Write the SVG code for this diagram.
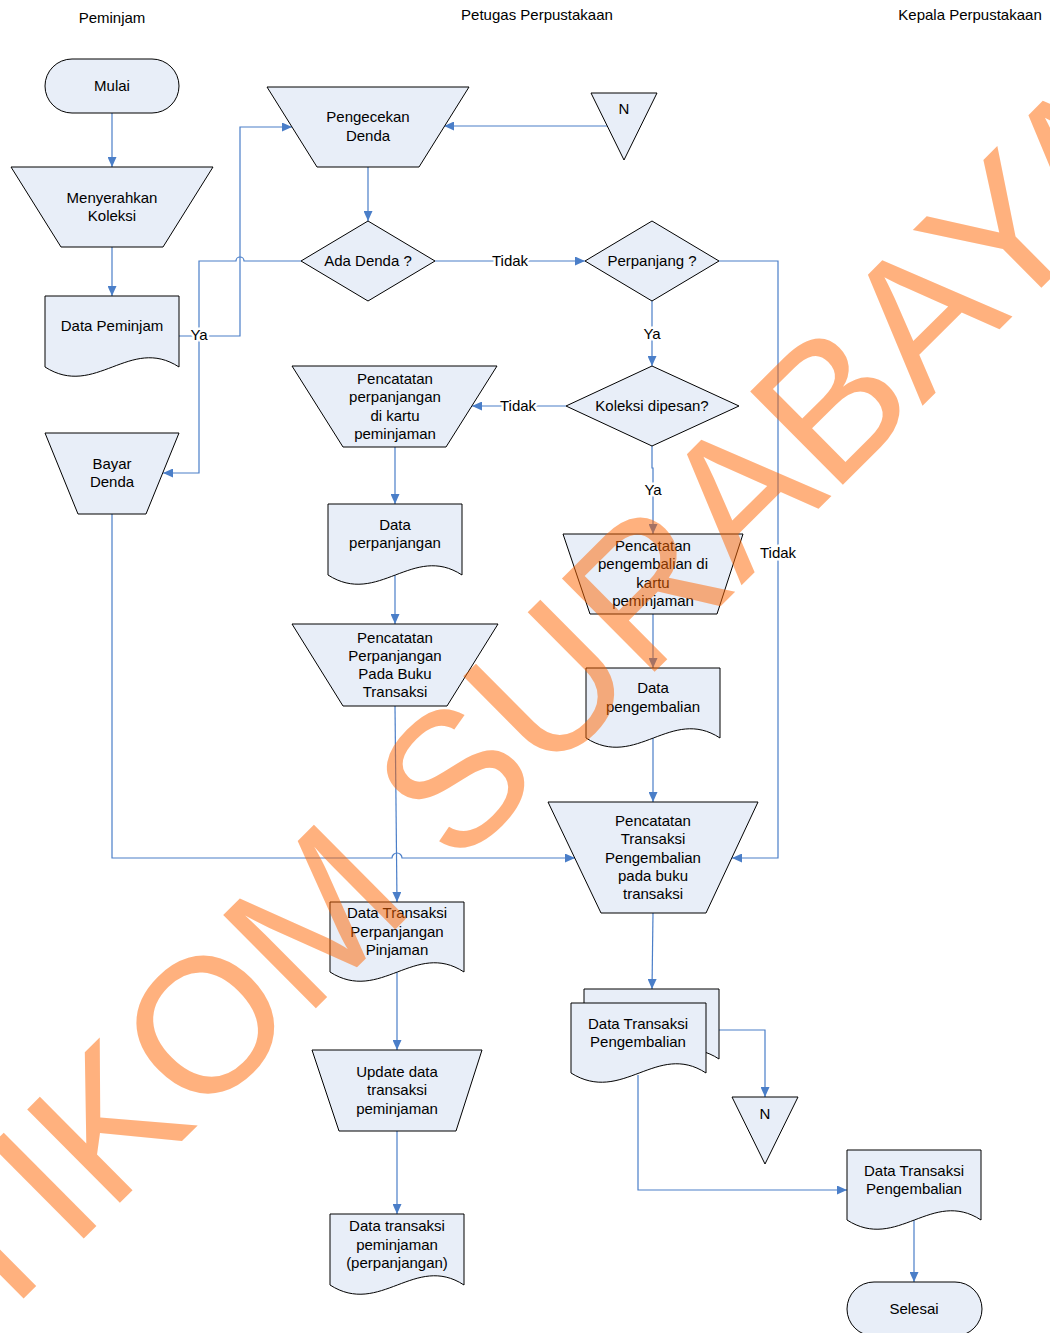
<svg xmlns="http://www.w3.org/2000/svg" width="1050" height="1333" viewBox="0 0 1050 1333">
<defs>
<style>
.shape{fill:#E8EEF8;stroke:#000;stroke-width:1}
.t{font-family:"Liberation Sans",Arial,sans-serif;font-size:15px;fill:#000;text-anchor:middle}
.c{fill:none;stroke:#4A7EC8;stroke-width:1.2}
.lbl{font-family:"Liberation Sans",Arial,sans-serif;font-size:15px;fill:#000;text-anchor:middle;stroke:#fff;stroke-width:5;paint-order:stroke;stroke-linejoin:round}
.wm{font-family:"Liberation Sans",Arial,sans-serif;font-size:191px;fill:#FF6600;opacity:0.5}
</style>
<marker id="arr" markerUnits="userSpaceOnUse" markerWidth="11" markerHeight="9" refX="10" refY="4.5" orient="auto">
<path d="M0,0 L10,4.5 L0,9 Z" fill="#4A7EC8"/>
</marker>
</defs>
<rect width="1050" height="1333" fill="#fff"/>

<g id="headers">
<text class="t" x="112" y="23">Peminjam</text>
<text class="t" x="537" y="20">Petugas Perpustakaan</text>
<text class="t" x="970" y="20">Kepala Perpustakaan</text>
</g>

<g id="connectors">
<path class="c" d="M112,113 V167" marker-end="url(#arr)"/>
<path class="c" d="M112,247 V296" marker-end="url(#arr)"/>
<path class="c" d="M179,336 H240 V127 H292" marker-end="url(#arr)"/>
<path class="c" d="M301,261 H244 A4,4 0 0 0 236,261 H199 V473 H163" marker-end="url(#arr)"/>
<path class="c" d="M368,167 V221" marker-end="url(#arr)"/>
<path class="c" d="M607,126 H444" marker-end="url(#arr)"/>
<path class="c" d="M435,261 H585" marker-end="url(#arr)"/>
<path class="c" d="M652,301 V366" marker-end="url(#arr)"/>
<path class="c" d="M719,261 H778 V858 H732" marker-end="url(#arr)"/>
<path class="c" d="M566,406 H472" marker-end="url(#arr)"/>
<path class="c" d="M652,446 V468 H653 V534" marker-end="url(#arr)"/>
<path class="c" d="M395,447 V504" marker-end="url(#arr)"/>
<path class="c" d="M395,575 V624" marker-end="url(#arr)"/>
<path class="c" d="M395,706 L397,902" marker-end="url(#arr)"/>
<path class="c" d="M112,514 V858 H392 A5,5 0 0 1 402,858 H575" marker-end="url(#arr)"/>
<path class="c" d="M653,614 V668" marker-end="url(#arr)"/>
<path class="c" d="M653,738 V802" marker-end="url(#arr)"/>
<path class="c" d="M653,913 L652,989" marker-end="url(#arr)"/>
<path class="c" d="M719,1030 H765 V1097" marker-end="url(#arr)"/>
<path class="c" d="M638,1075 V1190 H847" marker-end="url(#arr)"/>
<path class="c" d="M914,1220 V1282" marker-end="url(#arr)"/>
<path class="c" d="M397,972 V1050" marker-end="url(#arr)"/>
<path class="c" d="M397,1131 V1214" marker-end="url(#arr)"/>
<text class="lbl" x="199" y="340">Ya</text>
<text class="lbl" x="510" y="266">Tidak</text>
<text class="lbl" x="652" y="339">Ya</text>
<text class="lbl" x="778" y="558">Tidak</text>
<text class="lbl" x="518" y="411">Tidak</text>
<text class="lbl" x="653" y="495">Ya</text>
</g>

<g id="mulai">
<rect class="shape" x="45" y="59" width="134" height="54" rx="27"/>
<text class="t" x="112" y="91">Mulai</text>
</g>
<g id="menyerahkan">
<polygon class="shape" points="11,167 213,167 163,247 61,247"/>
<text class="t" x="112" y="203">Menyerahkan</text>
<text class="t" x="112" y="221">Koleksi</text>
</g>
<g id="data-peminjam">
<path class="shape" d="M45,296 H179 V367 C130,335 95,399 45,367 Z"/>
<text class="t" x="112" y="331">Data Peminjam</text>
</g>
<g id="bayar-denda">
<polygon class="shape" points="45,433 179,433 146,514 78,514"/>
<text class="t" x="112" y="469">Bayar</text>
<text class="t" x="112" y="487">Denda</text>
</g>
<g id="pengecekan">
<polygon class="shape" points="267,87 469,87 419,167 317,167"/>
<text class="t" x="368" y="122">Pengecekan</text>
<text class="t" x="368" y="141">Denda</text>
</g>
<g id="n-top">
<polygon class="shape" points="591,93 657,93 624,160"/>
<text class="t" x="624" y="114">N</text>
</g>
<g id="ada-denda">
<polygon class="shape" points="368,221 435,261 368,301 301,261"/>
<text class="t" x="368" y="266">Ada Denda ?</text>
</g>
<g id="perpanjang">
<polygon class="shape" points="652,221 719,261 652,301 585,261"/>
<text class="t" x="652" y="266">Perpanjang ?</text>
</g>
<g id="koleksi-dipesan">
<polygon class="shape" points="652,366 739,406 652,446 566,406"/>
<text class="t" x="652" y="411">Koleksi dipesan?</text>
</g>
<g id="pencatatan-perpanjangan-kartu">
<polygon class="shape" points="292,366 497,366 446,447 343,447"/>
<text class="t" x="395" y="384">Pencatatan</text>
<text class="t" x="395" y="402">perpanjangan</text>
<text class="t" x="395" y="421">di kartu</text>
<text class="t" x="395" y="439">peminjaman</text>
</g>
<g id="data-perpanjangan">
<path class="shape" d="M328,504 H462 V575 C413,543 378,607 328,575 Z"/>
<text class="t" x="395" y="530">Data</text>
<text class="t" x="395" y="548">perpanjangan</text>
</g>
<g id="pencatatan-perpanjangan-buku">
<polygon class="shape" points="292,624 498,624 447,706 343,706"/>
<text class="t" x="395" y="643">Pencatatan</text>
<text class="t" x="395" y="661">Perpanjangan</text>
<text class="t" x="395" y="679">Pada Buku</text>
<text class="t" x="395" y="697">Transaksi</text>
</g>
<g id="pencatatan-pengembalian-kartu">
<polygon class="shape" points="563,534 743,534 717,614 590,614"/>
<text class="t" x="653" y="551">Pencatatan</text>
<text class="t" x="653" y="569">pengembalian di</text>
<text class="t" x="653" y="588">kartu</text>
<text class="t" x="653" y="606">peminjaman</text>
</g>
<g id="data-pengembalian">
<path class="shape" d="M586,668 H720 V738 C671,706 636,770 586,738 Z"/>
<text class="t" x="653" y="693">Data</text>
<text class="t" x="653" y="712">pengembalian</text>
</g>
<g id="pencatatan-transaksi-pengembalian">
<polygon class="shape" points="548,802 758,802 706,913 601,913"/>
<text class="t" x="653" y="826">Pencatatan</text>
<text class="t" x="653" y="844">Transaksi</text>
<text class="t" x="653" y="863">Pengembalian</text>
<text class="t" x="653" y="881">pada buku</text>
<text class="t" x="653" y="899">transaksi</text>
</g>
<g id="data-transaksi-perpanjangan">
<path class="shape" d="M330,902 H464 V972 C415,940 380,1004 330,972 Z"/>
<text class="t" x="397" y="918">Data Transaksi</text>
<text class="t" x="397" y="937">Perpanjangan</text>
<text class="t" x="397" y="955">Pinjaman</text>
</g>
<g id="update-data">
<polygon class="shape" points="312,1050 482,1050 456,1131 339,1131"/>
<text class="t" x="397" y="1077">Update data</text>
<text class="t" x="397" y="1095">transaksi</text>
<text class="t" x="397" y="1114">peminjaman</text>
</g>
<g id="data-transaksi-peminjaman">
<path class="shape" d="M330,1214 H464 V1285 C415,1253 380,1317 330,1285 Z"/>
<text class="t" x="397" y="1231">Data transaksi</text>
<text class="t" x="397" y="1250">peminjaman</text>
<text class="t" x="397" y="1268">(perpanjangan)</text>
</g>
<g id="data-transaksi-pengembalian-multi">
<path class="shape" d="M584,989 H719 V1059 C670,1027 635,1091 584,1059 Z"/>
<path class="shape" d="M571,1003 H706 V1073 C657,1041 622,1105 571,1073 Z"/>
<text class="t" x="638" y="1029">Data Transaksi</text>
<text class="t" x="638" y="1047">Pengembalian</text>
</g>
<g id="n-bottom">
<polygon class="shape" points="732,1097 798,1097 765,1164"/>
<text class="t" x="765" y="1119">N</text>
</g>
<g id="data-transaksi-pengembalian">
<path class="shape" d="M847,1150 H981 V1220 C932,1188 897,1252 847,1220 Z"/>
<text class="t" x="914" y="1176">Data Transaksi</text>
<text class="t" x="914" y="1194">Pengembalian</text>
</g>
<g id="selesai">
<rect class="shape" x="847" y="1282" width="135" height="54" rx="27"/>
<text class="t" x="914" y="1314">Selesai</text>
</g>

<g id="watermark">
<text class="wm" transform="translate(-102,1423) rotate(-44.8)" x="0" y="0">STIKOM SURABAYA</text>
</g>
</svg>
